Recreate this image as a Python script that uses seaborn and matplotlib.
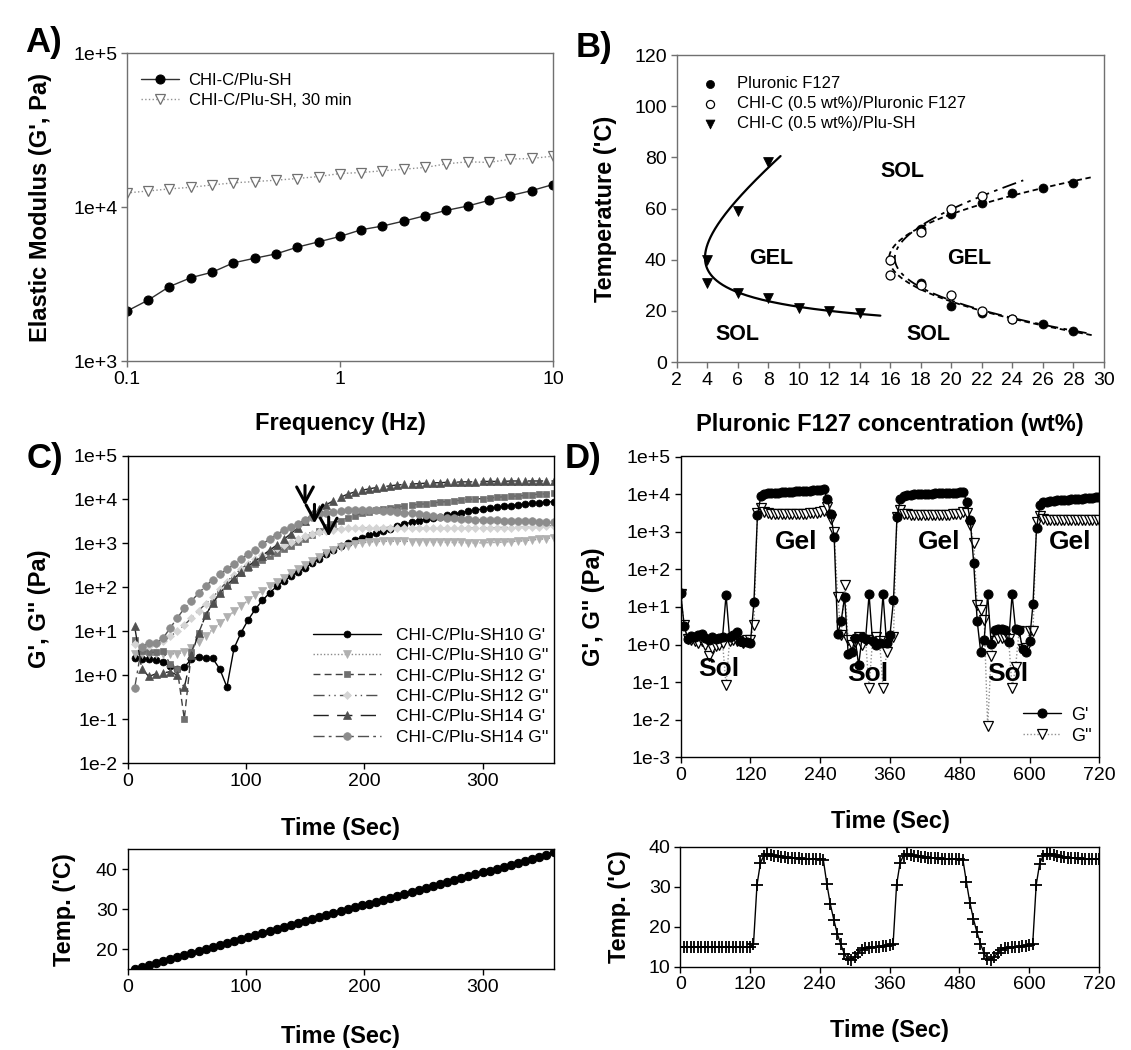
import matplotlib
matplotlib.use("Agg")
import matplotlib.pyplot as plt
import numpy as np
import seaborn as sns

sns.set_theme(style="ticks", rc={"text.color": "black", "axes.labelcolor": "black",
                                 "xtick.color": "black", "ytick.color": "black",
                                 "axes.edgecolor": "black"})
plt.rcParams["font.family"] = ["Liberation Sans", "DejaVu Sans"]

# ---------------- A) frequency sweep ----------------
freq_hz = [0.1, 0.126, 0.158, 0.2, 0.251, 0.316, 0.398, 0.501, 0.631, 0.794, 1.0,
           1.26, 1.58, 2.0, 2.51, 3.16, 3.98, 5.01, 6.31, 7.94, 10.0]
g_prime = [2110, 2490, 3040, 3480, 3770, 4340, 4650, 4960, 5490, 5940, 6440,
           7120, 7520, 8110, 8780, 9510, 10150, 11050, 11860, 12780, 13990]
g_prime_30min = [12340, 12710, 13100, 13430, 13910, 14350, 14630, 14930, 15310, 15770, 16490,
                 16750, 17180, 17610, 18060, 19070, 19660, 19470, 20460, 20660, 21380]

# ---------------- B) phase diagram ----------------
plu_conc = [18, 20, 22, 24, 26, 28, 18, 20, 22, 24, 26, 28]
plu_temp = [31, 22, 19, 17, 15, 12, 52, 58, 62, 66, 68, 70]
chic_conc = [16, 16, 18, 18, 20, 20, 22, 22, 24]
chic_temp = [40, 34, 51, 30, 60, 26, 65, 20, 17]
plush_conc = [4, 4, 6, 6, 8, 8, 10, 12, 14]
plush_temp = [40, 31, 59, 27, 78, 25, 21, 20, 19]
phase_text = ["SOL", "GEL", "GEL", "SOL", "SOL"]
phase_x = [16.8, 8.2, 21.2, 6.0, 18.5]
phase_y = [74.5, 40.6, 40.6, 10.9, 10.9]

# ---------------- C) temperature ramp (log10 Pa) ----------------
c_time = list(range(6, 361, 6))
sh10_gp_log = [
    0.38, 0.36, 0.36, 0.34, 0.30, 0.21, 0.15, 0.19, 0.36, 0.42,
    0.38, 0.38, 0.14, -0.27, 0.61, 0.97, 1.26, 1.50, 1.70, 1.87,
    2.02, 2.15, 2.25, 2.35, 2.44, 2.55, 2.65, 2.75, 2.85, 2.94,
    3.00, 3.07, 3.13, 3.18, 3.23, 3.27, 3.33, 3.39, 3.44, 3.48,
    3.52, 3.55, 3.58, 3.61, 3.64, 3.67, 3.70, 3.73, 3.76, 3.78,
    3.80, 3.82, 3.84, 3.86, 3.88, 3.89, 3.91, 3.92, 3.94, 3.95]
sh10_gpp_log = [
    0.48, 0.48, 0.49, 0.49, 0.48, 0.48, 0.49, 0.52, 0.62, 0.76,
    0.90, 1.04, 1.18, 1.32, 1.45, 1.58, 1.70, 1.82, 1.92, 2.02,
    2.12, 2.22, 2.32, 2.41, 2.50, 2.59, 2.68, 2.77, 2.85, 2.91,
    2.95, 2.99, 3.01, 3.03, 3.04, 3.05, 3.05, 3.05, 3.05, 3.04,
    3.04, 3.04, 3.03, 3.03, 3.02, 3.02, 3.02, 3.01, 3.01, 3.01,
    3.02, 3.02, 3.03, 3.04, 3.05, 3.06, 3.08, 3.09, 3.11, 3.13]
sh12_gp_log = [
    0.80, 0.54, 0.52, 0.52, 0.55, 0.25, 0.15, -1.00, 0.52, 0.95,
    1.36, 1.64, 1.86, 2.05, 2.20, 2.33, 2.44, 2.54, 2.63, 2.71,
    2.79, 2.87, 2.95, 3.03, 3.11, 3.20, 3.29, 3.37, 3.45, 3.52,
    3.58, 3.63, 3.68, 3.72, 3.75, 3.78, 3.80, 3.83, 3.85, 3.87,
    3.89, 3.90, 3.92, 3.94, 3.95, 3.97, 3.98, 4.00, 4.01, 4.02,
    4.03, 4.05, 4.06, 4.07, 4.08, 4.09, 4.11, 4.12, 4.13, 4.14]
sh12_gpp_log = [
    0.72, 0.66, 0.66, 0.70, 0.78, 0.88, 1.00, 1.14, 1.30, 1.47,
    1.62, 1.77, 1.95, 2.13, 2.28, 2.42, 2.54, 2.65, 2.74, 2.82,
    2.89, 2.96, 3.03, 3.10, 3.16, 3.22, 3.26, 3.29, 3.31, 3.33,
    3.34, 3.35, 3.35, 3.36, 3.36, 3.36, 3.36, 3.35, 3.35, 3.35,
    3.34, 3.34, 3.34, 3.34, 3.34, 3.34, 3.34, 3.35, 3.35, 3.35,
    3.35, 3.36, 3.36, 3.36, 3.37, 3.37, 3.38, 3.38, 3.39, 3.40]
sh14_gp_log = [
    1.11, 0.15, -0.03, 0.03, 0.05, 0.08, 0.00, -0.28, 0.45, 0.95,
    1.36, 1.64, 1.86, 2.05, 2.20, 2.35, 2.48, 2.60, 2.72, 2.84,
    2.96, 3.09, 3.22, 3.36, 3.52, 3.66, 3.78, 3.88, 3.97, 4.05,
    4.12, 4.17, 4.21, 4.24, 4.27, 4.29, 4.31, 4.33, 4.34, 4.35,
    4.36, 4.37, 4.38, 4.38, 4.39, 4.39, 4.40, 4.40, 4.40, 4.41,
    4.41, 4.41, 4.41, 4.42, 4.42, 4.42, 4.42, 4.42, 4.42, 4.42]
sh14_gpp_log = [
    -0.30, 0.65, 0.73, 0.73, 0.84, 1.07, 1.30, 1.52, 1.69, 1.86,
    2.03, 2.17, 2.30, 2.41, 2.52, 2.64, 2.76, 2.86, 2.98, 3.10,
    3.20, 3.30, 3.38, 3.45, 3.53, 3.61, 3.67, 3.70, 3.72, 3.74,
    3.75, 3.76, 3.76, 3.75, 3.75, 3.74, 3.73, 3.72, 3.70, 3.68,
    3.66, 3.64, 3.62, 3.60, 3.58, 3.57, 3.56, 3.55, 3.54, 3.54,
    3.53, 3.53, 3.52, 3.52, 3.51, 3.51, 3.50, 3.49, 3.48, 3.48]
c_temp = [
    15.2, 15.6, 16.1, 16.6, 17.2, 17.6, 18.1, 18.7, 19.1, 19.6,
    20.1, 20.6, 21.1, 21.6, 22.1, 22.5, 23.0, 23.5, 24.0, 24.5,
    25.0, 25.6, 26.1, 26.5, 27.0, 27.6, 28.0, 28.5, 29.0, 29.5,
    30.0, 30.5, 31.0, 31.4, 31.9, 32.4, 32.9, 33.4, 33.9, 34.4,
    34.9, 35.4, 35.9, 36.3, 36.8, 37.3, 37.8, 38.3, 38.8, 39.3,
    39.7, 40.2, 40.7, 41.2, 41.7, 42.2, 42.7, 43.1, 43.7, 44.3]
c_labels = ["CHI-C/Plu-SH10 G'", "CHI-C/Plu-SH10 G''", "CHI-C/Plu-SH12 G'",
            "CHI-C/Plu-SH12 G''", "CHI-C/Plu-SH14 G'", "CHI-C/Plu-SH14 G''"]
arrow_t = [150, 158, 170]
arrow_tail_log = [4.38, 3.95, 3.66]
arrow_head_log = [3.80, 3.39, 3.09]

# ---------------- D) temperature cycling (log10 Pa) ----------------
d_time = list(range(0, 721, 6))
d_gp_log = [
    1.36, 0.50, 0.15, 0.22, 0.20, 0.26, 0.28, 0.17, 0.12, 0.20,
    0.15, 0.18, 0.20, 1.32, 0.20, 0.24, 0.32, 0.08, 0.06, 0.06, 0.05,
    1.14, 3.44, 3.96, 4.00, 4.02, 4.03, 4.04, 4.04, 4.05, 4.05,
    4.06, 4.06, 4.07, 4.07, 4.08, 4.08, 4.09, 4.10, 4.10, 4.11, 4.13,
    3.88, 3.48, 2.85, 0.28, 0.63, 1.27, -0.24, -0.20, 0.16, -0.55,
    0.20, 0.15, 1.33, 0.09, 0.00, 0.05, 1.33, 0.05, 0.26, 1.18,
    3.40, 3.88, 3.95, 3.97, 3.98, 3.99, 3.99, 4.00, 4.00, 4.01,
    4.01, 4.02, 4.02, 4.03, 4.03, 4.03, 4.04, 4.04, 4.05, 4.05,
    3.80, 3.31, 2.16, 0.62, -0.20, 0.13, 1.33, 0.02, 0.38, 0.40,
    0.40, 0.38, 0.06, 1.33, 0.40, 0.38, -0.13, -0.19, 0.09, 1.09,
    3.09, 3.70, 3.78, 3.80, 3.81, 3.82, 3.83, 3.84, 3.85, 3.85,
    3.86, 3.87, 3.88, 3.88, 3.89, 3.90, 3.90, 3.91, 3.92]
d_gpp_log = [
    1.34, 0.53, 0.14, 0.11, 0.09, 0.04, 0.08, 0.00, -0.30, -0.09,
    -0.05, -0.02, 0.05, -1.09, 0.10, 0.13, 0.09, 0.09, 0.05, 0.13, 0.13,
    0.53, 3.49, 3.62, 3.52, 3.49, 3.48, 3.47, 3.47, 3.47, 3.47,
    3.47, 3.47, 3.47, 3.48, 3.48, 3.48, 3.49, 3.49, 3.50, 3.52, 3.55,
    3.66, 3.35, 3.00, 1.27, 0.25, 1.58, 0.12, -0.02, 0.07, 0.20,
    0.00, 0.12, -1.15, 0.12, 0.20, 0.10, -1.15, -0.20, 0.16, 0.20,
    3.40, 3.58, 3.48, 3.46, 3.45, 3.45, 3.44, 3.44, 3.44, 3.44,
    3.44, 3.44, 3.44, 3.44, 3.45, 3.45, 3.46, 3.47, 3.48, 3.52,
    3.50, 3.18, 2.69, 1.05, 0.92, 0.65, -2.18, -0.30, 0.09, 0.18,
    0.18, 0.16, 0.15, -1.15, -0.60, 0.36, -0.13, -0.09, 0.36, 0.36,
    3.25, 3.42, 3.33, 3.31, 3.30, 3.30, 3.30, 3.30, 3.30, 3.30,
    3.30, 3.30, 3.30, 3.30, 3.30, 3.30, 3.30, 3.30, 3.30]
d_temp = [
    15.0, 15.0, 15.0, 15.0, 15.0, 15.0, 15.0, 15.0, 15.0, 15.0,
    15.0, 15.0, 15.0, 15.0, 15.0, 15.0, 15.0, 15.0, 15.0, 15.0, 15.0,
    15.6, 30.4, 36.0, 37.8, 38.2, 38.0, 37.8, 37.6, 37.5, 37.4,
    37.3, 37.2, 37.1, 37.1, 37.0, 37.0, 37.0, 37.0, 36.9, 36.9, 36.8,
    30.8, 25.7, 21.8, 18.3, 15.6, 13.3, 11.9, 11.7, 12.5, 13.5,
    14.2, 14.6, 14.8, 14.9, 15.0, 15.0, 15.1, 15.2, 15.4, 15.6,
    30.4, 36.0, 37.8, 38.2, 38.0, 37.8, 37.6, 37.5, 37.4, 37.3,
    37.2, 37.1, 37.1, 37.0, 37.0, 37.0, 37.0, 36.9, 36.9, 36.8,
    31.2, 26.0, 22.0, 18.7, 15.8, 13.5, 11.9, 11.8, 12.5, 13.5,
    14.2, 14.6, 14.8, 14.9, 15.0, 15.0, 15.1, 15.2, 15.4, 15.6,
    30.4, 35.8, 37.7, 38.2, 38.1, 37.9, 37.7, 37.5, 37.4, 37.3,
    37.2, 37.1, 37.1, 37.0, 37.0, 37.0, 36.9, 36.9, 36.9]
gel_t = [198, 444, 669]
sol_t = [66, 322, 562]
sol_log = [-0.64, -0.79, -0.78]

W, H = 1131, 1050
fig = plt.figure(figsize=(W / 100, H / 100), dpi=100)


def px_axes(left, top, right, bottom):
    return fig.add_axes([left / W, 1 - bottom / H, (right - left) / W, (bottom - top) / H])


def style(ax, edge="black"):
    for s in ax.spines.values():
        s.set_color(edge)
        s.set_linewidth(1.0)
    ax.tick_params(direction="out", length=4, width=1, labelsize=14, color=edge, pad=3,
                   top=False, right=False)
    ax.grid(False)


def log_ticks(ax, lo, hi):
    ax.set_yscale("log")
    ax.set_ylim(10.0 ** lo, 10.0 ** hi)
    ax.set_yticks([10.0 ** e for e in range(lo, hi + 1)])
    ax.set_yticklabels([f"1e{e:+d}" for e in range(lo, hi + 1)])
    ax.minorticks_off()


def line(ax, x, y, **kw):
    sns.lineplot(x=x, y=y, ax=ax, estimator=None, sort=False, errorbar=None, **kw)


LBL = dict(fontsize=17, fontweight="bold")

# ---- A ----
axA = px_axes(127, 53, 553, 361)
style(axA, "#707070")
line(axA, freq_hz, g_prime, color="#303030", lw=1, marker="o", markersize=6.5,
     markerfacecolor="black", markeredgecolor="black", label="CHI-C/Plu-SH")
line(axA, freq_hz, g_prime_30min, color="#909090", lw=1, linestyle=":", marker="v",
     markersize=7, markerfacecolor="white", markeredgecolor="#707070", markeredgewidth=0.9,
     label="CHI-C/Plu-SH, 30 min")
axA.set_xscale("log")
axA.set_xlim(0.1, 10)
axA.set_xticks([0.1, 1, 10])
axA.set_xticklabels(["0.1", "1", "10"])
log_ticks(axA, 3, 5)
axA.set_xlabel("Frequency (Hz)", **LBL)
axA.set_ylabel("Elastic Modulus (G', Pa)", **LBL)
axA.xaxis.set_label_coords(0.5, -0.165)
axA.yaxis.set_label_coords(-0.175, 0.5)
axA.legend(loc="upper left", bbox_to_anchor=(0.033, 0.935), frameon=False, fontsize=12,
           handlelength=2.3, handletextpad=0.55, labelspacing=0.28, borderpad=0,
           borderaxespad=0)

# ---- B ----
axB = px_axes(676.5, 55, 1104, 362)
style(axB, "#707070")
sns.scatterplot(x=plu_conc, y=plu_temp, ax=axB, marker="o", s=42, color="black",
                edgecolor="black", label="Pluronic F127", zorder=3)
sns.scatterplot(x=chic_conc, y=chic_temp, ax=axB, marker="o", s=42, color="white",
                edgecolor="black", linewidth=0.9, label="CHI-C (0.5 wt%)/Pluronic F127", zorder=4)
sns.scatterplot(x=plush_conc, y=plush_temp, ax=axB, marker="v", s=50, color="black",
                edgecolor="black", label="CHI-C (0.5 wt%)/Plu-SH", zorder=3)


def fit_branch(temp, conc, basis, t_lo, t_hi, x_max):
    T = np.asarray(temp, float)
    A = np.column_stack([f(T) for f in basis])
    coef, *_ = np.linalg.lstsq(A, np.asarray(conc, float), rcond=None)
    tt = np.linspace(t_lo, t_hi, 400)
    xx = np.column_stack([f(tt) for f in basis]) @ coef
    keep = xx <= x_max
    return xx[keep], tt[keep]


poly3 = [lambda T: np.ones_like(T), lambda T: T, lambda T: T ** 2, lambda T: T ** 3]
hyper = [lambda T: np.ones_like(T), lambda T: T, lambda T: 1.0 / (T - 8.0)]
xs, ts = fit_branch(plush_temp, plush_conc, hyper, 15, 80.5, 15.4)
axB.plot(xs, ts, color="black", lw=1.6)
xs, ts = fit_branch(plu_temp, plu_conc, poly3, 5, 76, 29.3)
axB.plot(xs, ts, color="black", lw=1.3, linestyle=(0, (3, 2)))
xs, ts = fit_branch(chic_temp, chic_conc, poly3, 8, 71, 29.0)
axB.plot(xs, ts, color="black", lw=1.3, linestyle=(0, (8, 3, 2, 3)))
for txt, x, y in zip(phase_text, phase_x, phase_y):
    axB.text(x, y, txt, ha="center", va="center", fontsize=15.5, fontweight="bold")
axB.set_xlim(2, 30)
axB.set_ylim(0, 120)
axB.set_xticks(range(2, 31, 2))
axB.set_yticks(range(0, 121, 20))
axB.set_xlabel("Pluronic F127 concentration (wt%)", **LBL)
axB.set_ylabel("Temperature ('C)", **LBL)
axB.xaxis.set_label_coords(0.5, -0.165)
axB.yaxis.set_label_coords(-0.14, 0.5)
axB.legend(loc="upper left", bbox_to_anchor=(0.06, 0.932), frameon=False, fontsize=12,
           handlelength=1.0, handletextpad=1.1, labelspacing=0.3, borderpad=0,
           borderaxespad=0, markerscale=0.9)

# ---- C ----
axC = px_axes(127.5, 455.5, 553.5, 763)
style(axC)
c_series = [sh10_gp_log, sh10_gpp_log, sh12_gp_log, sh12_gpp_log, sh14_gp_log, sh14_gpp_log]
c_markers = ["o", "v", "s", "D", "^", "o"]
c_mcolor = ["black", "#b0b0b0", "#707070", "#d4d4d4", "#505050", "#8c8c8c"]
c_lcolor = ["black", "#8a8a8a", "#404040", "#505050", "#202020", "#505050"]
c_ls = ["-", (0, (1, 1.5)), (0, (5, 3)), (0, (8, 3, 1, 3, 1, 3)), (0, (11, 6)), (0, (8, 3, 2, 3))]
c_ms = [5, 5.5, 5, 4.5, 5.5, 5.5]
for vals, lab, mk, mc, lc, ls, ms in zip(c_series, c_labels, c_markers, c_mcolor, c_lcolor, c_ls, c_ms):
    line(axC, c_time, 10.0 ** np.asarray(vals), color=lc, lw=1, linestyle=ls, marker=mk,
         markersize=ms, markerfacecolor=mc, markeredgecolor=mc, markeredgewidth=0.5, label=lab)
for t, a, b in zip(arrow_t, arrow_tail_log, arrow_head_log):
    axC.annotate("", xy=(t, 10.0 ** b), xytext=(t, 10.0 ** a),
                 arrowprops=dict(arrowstyle="->,head_length=0.55,head_width=0.3",
                                 color="black", lw=2.2, mutation_scale=20))
axC.set_xlim(0, 360)
axC.set_xticks([0, 100, 200, 300])
log_ticks(axC, -2, 5)
axC.set_xlabel("Time (Sec)", **LBL)
axC.set_ylabel("G', G'' (Pa)", **LBL)
axC.xaxis.set_label_coords(0.5, -0.175)
axC.yaxis.set_label_coords(-0.18, 0.5)
axC.legend(loc="upper left", bbox_to_anchor=(0.435, 0.44), frameon=False, fontsize=12.5,
           handlelength=3.9, handletextpad=0.9, labelspacing=0.3, borderpad=0,
           borderaxespad=0)

# ---- C temperature ----
axCt = px_axes(127.5, 849.3, 553.5, 969.3)
style(axCt)
line(axCt, c_time, c_temp, color="black", lw=1, marker="o", markersize=6,
     markerfacecolor="black", markeredgecolor="black")
axCt.set_xlim(0, 360)
axCt.set_ylim(15, 45)
axCt.set_xticks([0, 100, 200, 300])
axCt.set_yticks([20, 30, 40])
axCt.set_xlabel("Time (Sec)", **LBL)
axCt.set_ylabel("Temp. ('C)", **LBL)
axCt.xaxis.set_label_coords(0.5, -0.46)
axCt.yaxis.set_label_coords(-0.12, 0.5)

# ---- D ----
axD = px_axes(680.7, 456.5, 1099.3, 757.3)
style(axD)
line(axD, d_time, 10.0 ** np.asarray(d_gp_log), color="black", lw=1, marker="o",
     markersize=6.5, markerfacecolor="black", markeredgecolor="black", label="G'", zorder=3)
line(axD, d_time, 10.0 ** np.asarray(d_gpp_log), color="#909090", lw=1, linestyle=(0, (1, 1.5)),
     marker="v", markersize=7, markerfacecolor="white", markeredgecolor="black",
     markeredgewidth=0.9, label="G''", zorder=2)
for t in gel_t:
    axD.text(t, 10.0 ** 2.72, "Gel", ha="center", va="center", fontsize=19, fontweight="bold")
for t, v in zip(sol_t, sol_log):
    axD.text(t, 10.0 ** v, "Sol", ha="center", va="center", fontsize=19, fontweight="bold")
axD.set_xlim(0, 720)
axD.set_xticks(range(0, 721, 120))
log_ticks(axD, -3, 5)
axD.set_xlabel("Time (Sec)", **LBL)
axD.set_ylabel("G', G'' (Pa)", **LBL)
axD.xaxis.set_label_coords(0.5, -0.175)
axD.yaxis.set_label_coords(-0.18, 0.5)
axD.legend(loc="upper left", bbox_to_anchor=(0.818, 0.168), frameon=False, fontsize=13,
           handlelength=2.1, handletextpad=0.55, labelspacing=0.22, borderpad=0,
           borderaxespad=0)

# ---- D temperature ----
axDt = px_axes(680.2, 846.7, 1099, 966.7)
style(axDt)
line(axDt, d_time, d_temp, color="black", lw=1, marker="+", markersize=8,
     markeredgecolor="black", markeredgewidth=1.3)
axDt.set_xlim(0, 720)
axDt.set_ylim(10, 40)
axDt.set_xticks(range(0, 721, 120))
axDt.set_yticks([10, 20, 30, 40])
axDt.set_xlabel("Time (Sec)", **LBL)
axDt.set_ylabel("Temp. ('C)", **LBL)
axDt.xaxis.set_label_coords(0.5, -0.44)
axDt.yaxis.set_label_coords(-0.117, 0.5)

# panel letters
for txt, x, y in [("A)", 25, 26), ("B)", 576, 31), ("C)", 27, 442), ("D)", 565, 442)]:
    fig.text(x / W, 1 - y / H, txt, fontsize=25, fontweight="bold", va="top", ha="left")

fig.savefig("out.png", dpi=100)
